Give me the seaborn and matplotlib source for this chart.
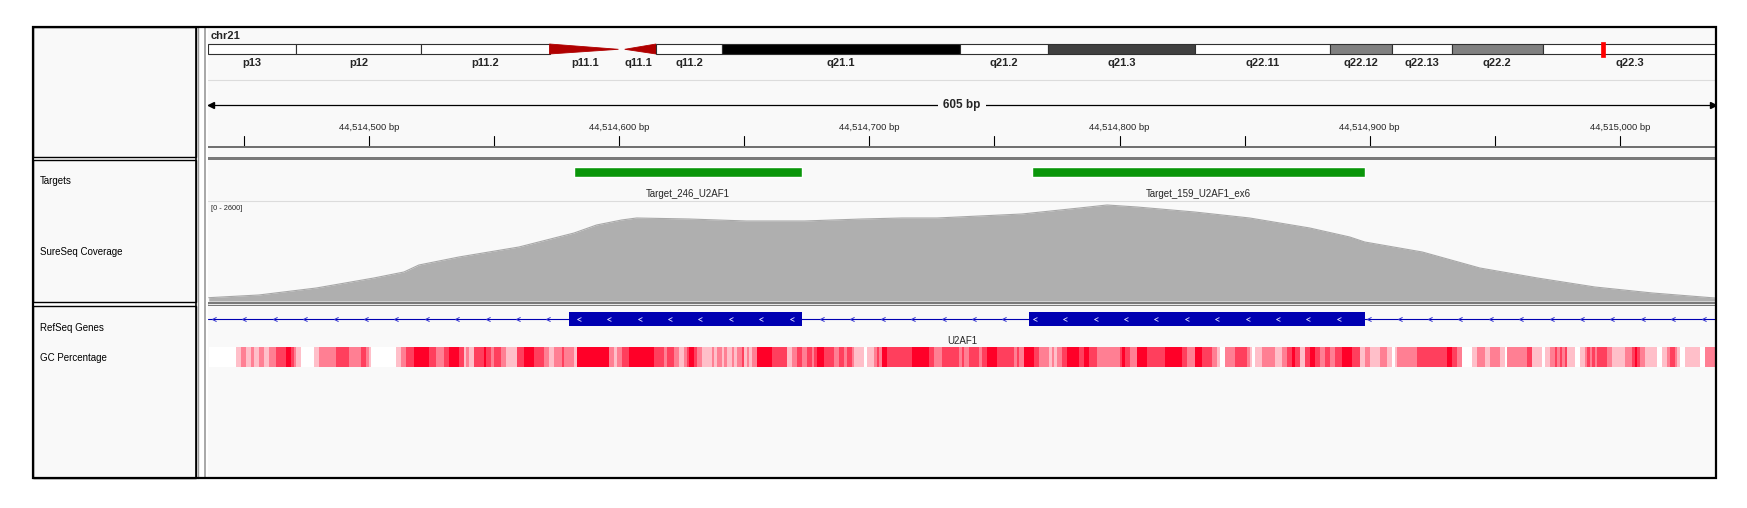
import numpy as np
import matplotlib
matplotlib.use("Agg")
import matplotlib.pyplot as plt
from matplotlib.colors import LinearSegmentedColormap
from matplotlib.patches import Rectangle, Polygon
from matplotlib.path import Path
import seaborn as sns

sns.set_style("white")
plt.rcParams['font.family'] = ['Liberation Sans', 'DejaVu Sans']

# ---------------- data ----------------
chrom = "chr21"
view_start = 44514435.7          # genomic position at left edge of data panel
view_bp = 602.7                  # visible width in bp
span_label = "605 bp"
locus_mb = 44.5145

# chr21 cytobands (Mb)
band_names = ["p13", "p12", "p11.2", "p11.1", "q11.1", "q11.2", "q21.1", "q21.2",
              "q21.3", "q22.11", "q22.12", "q22.13", "q22.2", "q22.3"]
band_starts = [0.0, 2.8, 6.8, 10.9, 13.2, 14.3, 16.4, 24.0, 26.8, 31.5, 35.8, 37.8, 39.7, 42.6]
band_ends = [2.8, 6.8, 10.9, 13.2, 14.3, 16.4, 24.0, 26.8, 31.5, 35.8, 37.8, 39.7, 42.6, 48.13]
band_stains = ["gvar", "stalk", "gvar", "acen", "acen", "gneg", "gpos100", "gneg",
               "gpos75", "gneg", "gpos50", "gneg", "gpos50", "gneg"]

ruler_ticks = [44514450, 44514500, 44514550, 44514600, 44514650, 44514700, 44514750,
               44514800, 44514850, 44514900, 44514950, 44515000]

target_names = ["Target_246_U2AF1", "Target_159_U2AF1_ex6"]
target_starts = [44514582, 44514765]
target_ends = [44514673, 44514898]

gene_name = "U2AF1"
exon_starts = [44514580, 44514764]
exon_ends = [44514673, 44514898]

cov_max = 2600
cov_pos = [44514436, 44514456, 44514479, 44514502, 44514514, 44514520, 44514536, 44514560,
           44514582, 44514591, 44514601, 44514607, 44514628, 44514651, 44514674, 44514697,
           44514713, 44514727, 44514761, 44514784, 44514795, 44514807, 44514830, 44514852,
           44514876, 44514892, 44514898, 44514921, 44514944, 44514967, 44514990, 44515013,
           44515038]
cov_val = [86, 156, 338, 598, 754, 936, 1144, 1404,
           1768, 1976, 2106, 2158, 2132, 2080, 2080, 2132,
           2158, 2158, 2262, 2418, 2496, 2444, 2314, 2158,
           1898, 1664, 1534, 1274, 858, 598, 364, 208,
           78]

# GC percentage track: run ends (bp offset from gc_origin) and GC % of each run
gc_origin = 44514436
gc_run_end = [11, 13, 15, 17, 18, 20, 22, 24, 27, 31, 33, 34, 35, 37, 42, 44, 51, 56, 61, 63,
              64, 65, 75, 77, 79, 82, 88, 91, 94, 96, 100, 102, 103, 104, 106, 110, 111, 113,
              114, 117, 119, 123, 126, 130, 134, 136, 138, 141, 142, 146, 147,
              160, 162, 163, 165, 168, 178, 182, 183, 186, 188, 190, 191, 192, 194, 195, 197,
              201, 202, 203, 205, 206, 207, 209, 210, 211, 213, 214, 215, 216, 217, 219, 225,
              231, 233, 235, 237, 239, 241, 242, 243, 246, 250, 252, 254, 255, 257, 258, 262,
              263, 266, 267, 268, 269, 271, 281, 288, 290, 293, 300, 301, 302, 304,
              308, 309, 311, 315, 322, 323, 324, 326, 330, 332, 336, 337, 338, 339, 341, 343,
              348, 350, 352, 355, 364, 365, 366, 368, 371, 375, 382, 389, 391, 394, 397, 401,
              403, 404, 406, 410, 415, 416, 417, 418, 421, 426, 429, 431, 433, 434, 436, 438,
              440, 442, 444, 446, 448, 450, 453, 457,
              460, 462, 464, 468, 471, 473, 474, 475, 483, 495, 497, 499, 501, 505, 507, 510,
              512, 516, 518, 519, 527, 529, 533, 534, 536, 538, 539, 540, 541, 542, 543, 546,
              548, 550, 551, 552, 553, 554, 555, 559, 561, 566, 569, 570, 571, 572, 574, 579,
              581, 583, 584, 586, 587, 588, 590, 596, 598, 602]
gc_pct = [30, 40, 50, 40, 50, 40, 50, 40, 50, 60, 70, 60, 50, 40, 30, 40, 50, 60, 50, 60,
          50, 40, 30, 40, 50, 60, 70, 60, 50, 60, 70, 60, 40, 50, 40, 60, 70, 60,
          50, 60, 50, 40, 60, 70, 60, 50, 40, 50, 60, 50, 40,
          70, 50, 40, 50, 60, 70, 60, 50, 60, 50, 40, 50, 60, 70, 60, 50,
          40, 50, 40, 50, 40, 50, 40, 50, 40, 50, 60, 40, 50, 40, 50, 70,
          60, 40, 50, 60, 50, 60, 50, 60, 70, 60, 50, 60, 50, 60, 50, 40,
          30, 40, 50, 60, 50, 70, 60, 70, 60, 50, 60, 50, 60, 50,
          60, 50, 60, 70, 60, 50, 60, 50, 70, 60, 50, 40, 50, 40, 50, 60,
          70, 60, 70, 60, 50, 60, 70, 60, 50, 70, 60, 70, 60, 50, 70, 60,
          50, 40, 30, 50, 60, 50, 40, 30, 40, 50, 40, 50, 60, 70, 60, 40,
          60, 70, 60, 50, 60, 50, 60, 70,
          60, 40, 50, 40, 50, 40, 30, 40, 50, 60, 70, 60, 50, 30, 40, 50,
          40, 50, 40, 30, 50, 60, 40, 30, 40, 50, 60, 50, 60, 50, 60, 40,
          30, 40, 50, 60, 50, 60, 50, 60, 50, 40, 50, 60, 70, 60, 50, 40,
          30, 40, 50, 60, 50, 40, 30, 40, 30, 50]

# ---------------- figure & helpers ----------------
W, H = 1747, 508
fig = plt.figure(figsize=(W / 100, H / 100), dpi=100)
fig.patch.set_facecolor("white")

BG = "#F9F9F9"
X0, X1 = 208, 1716          # data panel pixel span
view_end = view_start + view_bp


def px_axes(x0, y0, x1, y1, z=1):
    a = fig.add_axes([x0 / W, 1 - y1 / H, (x1 - x0) / W, (y1 - y0) / H])
    a.set_zorder(z)
    a.patch.set_alpha(0)
    a.axis("off")
    return a


def gx(p):
    """genomic position -> pixel x (used only for placing the GC heatmap axes)"""
    return X0 + (p - view_start) / view_bp * (X1 - X0)


# background frame / panels (layout only)
bg = px_axes(0, 0, W, H, z=0)
bg.set_xlim(0, W)
bg.set_ylim(H, 0)
for (y0, y1) in [(27, 157), (160, 302), (306, 478)]:
    bg.add_patch(Rectangle((33, y0), 163, y1 - y0, fc=BG, ec="black", lw=1.0))
    bg.add_patch(Rectangle((X0, y0), X1 - X0, y1 - y0, fc=BG, ec="none"))
bg.add_patch(Rectangle((X0, 156.5), X1 - X0, 3.5, fc="#7A7A7A", ec="none"))
bg.add_patch(Rectangle((X0, 302), X1 - X0, 4, fc="#7A7A7A", ec="none"))
bg.plot([X0, X1], [303.8, 303.8], color="white", lw=0.6)
bg.plot([198, 198], [27, 478], color="#9A9A9A", lw=1.0)
bg.plot([205.5, 205.5], [27, 478], color="#9A9A9A", lw=1.2)
bg.plot([X0, X1], [80, 80], color="#DCDCDC", lw=0.8)
bg.plot([X0, X1], [201, 201], color="#DCDCDC", lw=0.8)

# top overlay for outer frame
top = px_axes(0, 0, W, H, z=20)
top.set_xlim(0, W)
top.set_ylim(H, 0)
top.add_patch(Rectangle((33, 27), 1683, 451, fc="none", ec="black", lw=1.6))
top.plot([196, 196], [27, 478], color="black", lw=1.2)

# track names
name_fs = 7
for label, y in [("Targets", 181), ("SureSeq Coverage", 252),
                 ("RefSeq Genes", 328), ("GC Percentage", 358)]:
    bg.text(40, y, label, fontsize=name_fs, va="center", ha="left", color="black")

bg.text(211, 36, chrom, fontsize=8, fontweight="bold", va="center", ha="left")

# ---------------- ideogram ----------------
ideo = px_axes(X0, 40, X1, 70, z=5)
ideo.set_xlim(0, band_ends[-1])
ideo.set_ylim(70, 40)
stain_col = {"gneg": "white", "gvar": "white", "stalk": "white",
             "gpos50": "#808080", "gpos75": "#404040", "gpos100": "black"}
for name, s, e, st in zip(band_names, band_starts, band_ends, band_stains):
    if st == "acen":
        if name.startswith("p"):
            poly = [(s, 44), (e - 0.1, 49.3), (s, 54)]
        else:
            poly = [(s + 0.1, 49.3), (e, 44), (e, 54)]
        ideo.add_patch(Polygon(poly, closed=True, fc="#B00000", ec="#B00000", lw=0.6))
    else:
        ideo.add_patch(Rectangle((s, 44), e - s, 10, fc=stain_col[st], ec="#303030", lw=0.8))
    ideo.text((s + e) / 2, 62.5, name, fontsize=8, fontweight="bold", ha="center",
              va="center")
ideo.add_patch(Rectangle((locus_mb - 0.06, 42), 0.12, 15, fc="red", ec="red", lw=0.5))

# ---------------- ruler ----------------
rul = px_axes(X0, 80, X1, 157, z=5)
rul.set_xlim(view_start, view_end)
rul.set_ylim(157, 80)
mid = view_start + view_bp / 2
rul.plot([view_start, view_end], [105, 105], color="black", lw=0.9)
rul.plot([view_start + 1.2], [105], marker="<", color="black", ms=4)
rul.plot([view_end - 1.2], [105], marker=">", color="black", ms=4)
rul.text(mid, 105, span_label, fontsize=8.5, fontweight="bold", ha="center", va="center",
         bbox=dict(fc=BG, ec="none", pad=4))
for t in ruler_ticks:
    rul.plot([t, t], [136, 146], color="black", lw=0.8)
    if t % 100 == 0:
        rul.text(t, 128, f"{t:,} bp", fontsize=6.8, ha="center", va="center")
rul.plot([view_start, view_end], [147, 147], color="#6E6E6E", lw=1.4)

# ---------------- targets ----------------
tg = px_axes(X0, 160, X1, 201, z=5)
tg.set_xlim(view_start, view_end)
tg.set_ylim(201, 160)
for name, s, e in zip(target_names, target_starts, target_ends):
    tg.broken_barh([(s, e - s)], (167, 10), facecolors="#0A960A")
    tg.text((s + e) / 2, 194, name, fontsize=7, ha="center", va="center")

# ---------------- coverage ----------------
cv = px_axes(X0, 201, X1, 301, z=5)
cv.set_xlim(view_start, view_end)
cv.set_ylim(0, cov_max)
cv.fill_between(cov_pos, cov_val, 0, color="#AFAFAF", lw=0)
sns.lineplot(x=cov_pos, y=cov_val, ax=cv, color="#A8A8A8", lw=0.8, legend=False)
cv.axis("off")
bg.text(211, 208, f"[0 - {cov_max}]", fontsize=5.3, ha="left", va="center")

# ---------------- RefSeq gene ----------------
gn = px_axes(X0, 306, X1, 346, z=5)
gn.set_xlim(view_start, view_end)
gn.set_ylim(346, 306)
gn.plot([view_start, view_end], [319, 319], color="#0000B2", lw=0.8)
for s, e in zip(exon_starts, exon_ends):
    gn.add_patch(Rectangle((s, 312), e - s, 14, fc="#0000B2", ec="none"))
chev = Path([(1, 1), (-1, 0), (1, -1)], [Path.MOVETO, Path.LINETO, Path.LINETO])
step = 30.4 / (X1 - X0) * view_bp
xs = np.arange(view_start + 2.4, view_end, step)
inside = np.zeros(len(xs), bool)
for s, e in zip(exon_starts, exon_ends):
    inside |= (xs > s + 2) & (xs < e - 2)
gn.plot(xs[~inside], np.full((~inside).sum(), 319), ls="none", marker=chev, ms=3.0,
        mfc="none", mec="#3030D0", mew=0.7)
gn.plot(xs[inside], np.full(inside.sum(), 319), ls="none", marker=chev, ms=2.8,
        mfc="none", mec="#E0E0FF", mew=0.6)
gn.text(mid, 341, gene_name, fontsize=7, ha="center", va="center")

# ---------------- GC percentage heatmap ----------------
gc_runs = np.diff([0] + gc_run_end)
gc_row = np.repeat(gc_pct, gc_runs)[None, :]
gcx0 = gx(gc_origin)
gcx1 = gx(gc_origin + gc_run_end[-1])
gca = fig.add_axes([gcx0 / W, 1 - 367 / H, (gcx1 - gcx0) / W, 20 / H])
gca.set_zorder(5)
gc_cmap = LinearSegmentedColormap.from_list("gc", ["#FFFFFF", "#FF0028"])
sns.heatmap(gc_row, ax=gca, cmap=gc_cmap, vmin=30, vmax=70, cbar=False,
            xticklabels=False, yticklabels=False, linewidths=0, rasterized=True)
gca.axis("off")

fig.savefig("out.png", dpi=100, facecolor="white")
